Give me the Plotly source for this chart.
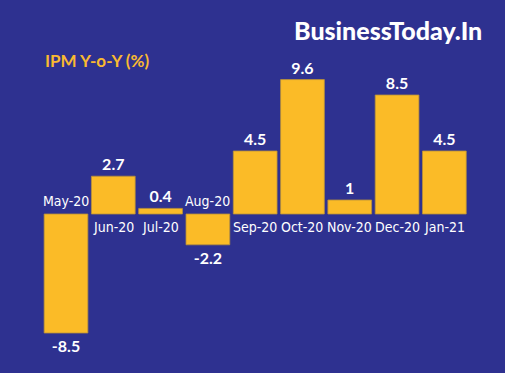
import plotly.graph_objects as go

months = ["May-20", "Jun-20", "Jul-20", "Aug-20", "Sep-20", "Oct-20", "Nov-20", "Dec-20", "Jan-21"]
ipm_yoy = [-8.5, 2.7, 0.4, -2.2, 4.5, 9.6, 1, 8.5, 4.5]
value_labels = ["-8.5", "2.7", "0.4", "-2.2", "4.5", "9.6", "1", "8.5", "4.5"]

BG = "#2e3190"
BAR = "#fbbb27"

W, H = 505, 373
L, R, T, B = 41, 37, 60, 23
PW, PH = W - L - R, H - T - B

fig = go.Figure()
fig.add_trace(go.Bar(
    x=months, y=ipm_yoy,
    text=value_labels, textposition="outside",
    textfont=dict(family="Lato, Open Sans, sans-serif", size=16, color="white", weight="bold"),
    marker=dict(color=BAR, line=dict(color="#b8903a", width=0.8)),
    cliponaxis=False,
))

for m, v in zip(months, ipm_yoy):
    fig.add_annotation(
        x=m, y=0, xref="x", yref="y", text=m, showarrow=False,
        yshift=(-13 if v >= 0 else 13),
        font=dict(family="DejaVu Sans Condensed, Liberation Sans Narrow, sans-serif", size=14, color="white"),
    )

fig.add_annotation(x=(43 - L) / PW, y=1.0, xref="paper", yref="paper", text="IPM Y-o-Y (%)",
                   showarrow=False, xanchor="left", yanchor="middle",
                   font=dict(family="Lato, sans-serif", size=17, color="#f9b931", weight="bold"))
fig.add_annotation(x=(484 - L) / PW, y=1 + (T - 30) / PH, xref="paper", yref="paper", text="BusinessToday.In",
                   showarrow=False, xanchor="right", yanchor="middle",
                   font=dict(family="Lato, sans-serif", size=25, color="white", weight=900))

fig.update_layout(
    width=W, height=H,
    margin=dict(l=L, r=R, t=T, b=B),
    paper_bgcolor=BG, plot_bgcolor=BG,
    bargap=0.075, showlegend=False,
    xaxis=dict(visible=False),
    yaxis=dict(visible=False, range=[-(T + PH - 214) / 14.0, (214 - T) / 14.0]),
)
fig.write_html("out.html", config={"displayModeBar": False},
               post_script="document.body.style.margin='0';")
